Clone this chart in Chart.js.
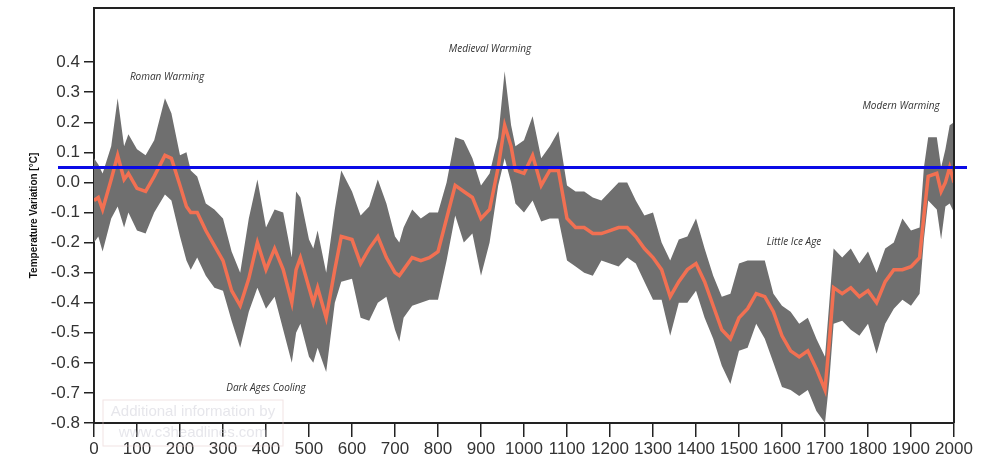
<!DOCTYPE html>
<html>
<head>
<meta charset="utf-8">
<script src="https://cdn.jsdelivr.net/npm/chart.js@4"></script>
<style>
  body { margin: 0; background: #fff; }
  canvas { display: block; }
</style>
</head>
<body>
<canvas id="chart" width="983" height="469"></canvas>
<script>
// Reconstructed temperature variation, years 0-2000 (°C)
const years = [0, 10, 20, 40, 55, 70, 80, 100, 120, 140, 165, 180, 200, 215, 225, 240, 260, 280, 300, 320,
  340, 360, 380, 400, 420, 440, 460, 470, 480, 500, 510, 520, 540, 560, 575, 600, 620, 640, 660, 680,
  700, 710, 720, 740, 760, 780, 800, 820, 840, 860, 880, 900, 920, 940, 955, 970, 980, 1000, 1020, 1040,
  1060, 1080, 1100, 1120, 1140, 1160, 1180, 1200, 1220, 1240, 1260, 1280, 1300, 1320, 1340, 1360, 1380, 1400, 1420, 1440,
  1460, 1480, 1500, 1520, 1540, 1560, 1580, 1600, 1620, 1640, 1660, 1680, 1700, 1710, 1720, 1740, 1760, 1780, 1800, 1820,
  1840, 1860, 1880, 1900, 1920, 1930, 1940, 1960, 1970, 1980, 1990, 2000];

const meanTemp = [-0.06, -0.05, -0.09, 0.01, 0.09, 0.01, 0.03, -0.02, -0.03, 0.02, 0.09, 0.08, -0.01, -0.08, -0.10, -0.10, -0.16, -0.21, -0.26, -0.36,
  -0.41, -0.32, -0.20, -0.29, -0.22, -0.29, -0.40, -0.29, -0.25, -0.35, -0.40, -0.35, -0.45, -0.29, -0.18, -0.19, -0.27, -0.22, -0.18, -0.25,
  -0.30, -0.31, -0.29, -0.25, -0.26, -0.25, -0.23, -0.12, -0.01, -0.03, -0.05, -0.12, -0.09, 0.05, 0.19, 0.12, 0.04, 0.03, 0.09, -0.01,
  0.04, 0.04, -0.12, -0.15, -0.15, -0.17, -0.17, -0.16, -0.15, -0.15, -0.18, -0.22, -0.25, -0.29, -0.38, -0.33, -0.29, -0.27, -0.33, -0.41,
  -0.49, -0.52, -0.45, -0.42, -0.37, -0.38, -0.43, -0.51, -0.56, -0.58, -0.56, -0.62, -0.69, -0.53, -0.35, -0.37, -0.35, -0.38, -0.36, -0.40,
  -0.33, -0.29, -0.29, -0.28, -0.25, -0.11, 0.02, 0.03, -0.03, 0.00, 0.05, 0.00];

const upperTemp = [0.08, 0.06, 0.03, 0.12, 0.28, 0.12, 0.16, 0.11, 0.09, 0.14, 0.28, 0.23, 0.09, 0.10, 0.04, 0.02, -0.07, -0.09, -0.12, -0.23,
  -0.30, -0.12, 0.01, -0.15, -0.09, -0.10, -0.25, -0.03, -0.05, -0.19, -0.22, -0.16, -0.30, -0.09, 0.04, -0.03, -0.11, -0.08, 0.01, -0.07,
  -0.18, -0.20, -0.15, -0.09, -0.12, -0.10, -0.10, 0.00, 0.15, 0.14, 0.08, -0.01, 0.03, 0.15, 0.37, 0.19, 0.12, 0.14, 0.22, 0.08,
  0.12, 0.17, -0.01, -0.03, -0.03, -0.05, -0.06, -0.03, 0.00, 0.00, -0.06, -0.11, -0.10, -0.20, -0.26, -0.19, -0.18, -0.12, -0.22, -0.31,
  -0.38, -0.37, -0.27, -0.26, -0.26, -0.26, -0.37, -0.41, -0.43, -0.47, -0.45, -0.52, -0.58, -0.40, -0.22, -0.25, -0.22, -0.27, -0.23, -0.30,
  -0.22, -0.20, -0.12, -0.16, -0.15, 0.05, 0.15, 0.15, 0.05, 0.11, 0.19, 0.20];

const lowerTemp = [-0.20, -0.18, -0.23, -0.12, -0.08, -0.15, -0.10, -0.16, -0.17, -0.10, -0.04, -0.06, -0.18, -0.26, -0.29, -0.25, -0.31, -0.35, -0.36, -0.46,
  -0.55, -0.43, -0.35, -0.42, -0.38, -0.49, -0.60, -0.50, -0.47, -0.58, -0.60, -0.55, -0.63, -0.40, -0.33, -0.32, -0.45, -0.46, -0.40, -0.38,
  -0.49, -0.53, -0.45, -0.41, -0.40, -0.39, -0.39, -0.26, -0.11, -0.20, -0.17, -0.31, -0.20, -0.01, 0.08, 0.00, -0.07, -0.10, -0.06, -0.13,
  -0.12, -0.12, -0.26, -0.28, -0.30, -0.31, -0.26, -0.27, -0.28, -0.25, -0.27, -0.33, -0.39, -0.39, -0.51, -0.40, -0.40, -0.36, -0.45, -0.52,
  -0.61, -0.67, -0.56, -0.55, -0.47, -0.52, -0.60, -0.68, -0.69, -0.71, -0.69, -0.76, -0.80, -0.66, -0.47, -0.46, -0.49, -0.51, -0.47, -0.57,
  -0.47, -0.42, -0.39, -0.41, -0.37, -0.19, -0.06, -0.09, -0.19, -0.08, -0.07, -0.10];

const yTicks = [-0.8, -0.7, -0.6, -0.5, -0.4, -0.3, -0.2, -0.1, 0.0, 0.1, 0.2, 0.3, 0.4];
const referenceLevel = 0.05;

const periodNames = ['Roman Warming', 'Medieval Warming', 'Modern Warming', 'Little Ice Age', 'Dark Ages Cooling'];
const periodYears = [170, 921, 1877, 1628, 400];
const periodValues = [0.35, 0.443, 0.253, -0.2, -0.683];

function toPoints(values) {
  return years.map((yr, i) => ({ x: yr, y: values[i] }));
}

// frame, reference line, period labels and watermark
const overlayPlugin = {
  id: 'overlay',
  afterDatasetsDraw(chart) {
    const { ctx, chartArea, scales } = chart;
    ctx.save();

    // blue reference line, runs a bit past the plot box
    const yRef = scales.y.getPixelForValue(referenceLevel);
    ctx.strokeStyle = '#0a0ae6';
    ctx.lineWidth = 3;
    ctx.beginPath();
    ctx.moveTo(chartArea.left - 36, yRef);
    ctx.lineTo(chartArea.right + 13, yRef);
    ctx.stroke();

    // top and right edges of the box
    ctx.strokeStyle = '#222';
    ctx.lineWidth = 2;
    ctx.beginPath();
    ctx.moveTo(chartArea.left, chartArea.top);
    ctx.lineTo(chartArea.right, chartArea.top);
    ctx.lineTo(chartArea.right, chartArea.bottom);
    ctx.stroke();

    ctx.fillStyle = '#333';
    ctx.font = 'italic 10px "Open Sans", sans-serif';
    ctx.textAlign = 'center';
    ctx.textBaseline = 'middle';
    periodNames.forEach((name, i) => {
      ctx.fillText(name, scales.x.getPixelForValue(periodYears[i]), scales.y.getPixelForValue(periodValues[i]));
    });

    // faint watermark box
    const wx = chartArea.left + 9, wy = chartArea.bottom - 23;
    ctx.strokeStyle = 'rgba(230,200,200,0.5)';
    ctx.lineWidth = 1;
    ctx.strokeRect(wx, wy, 180, 46);
    ctx.fillStyle = 'rgba(200,200,210,0.45)';
    ctx.font = '15px "Liberation Sans", Arial, sans-serif';
    ctx.fillText('Additional information by', wx + 90, wy + 12);
    ctx.fillText('www.c3headlines.com', wx + 90, wy + 33);

    ctx.restore();
  }
};

const ctx = document.getElementById('chart').getContext('2d');
new Chart(ctx, {
  type: 'line',
  data: {
    datasets: [
      {
        label: 'Upper',
        data: toPoints(upperTemp),
        borderWidth: 0,
        borderColor: 'rgba(0,0,0,0)',
        backgroundColor: '#6f6f6f',
        pointRadius: 0,
        fill: '+1',
        tension: 0,
        order: 2
      },
      {
        label: 'Lower',
        data: toPoints(lowerTemp),
        borderWidth: 0,
        borderColor: 'rgba(0,0,0,0)',
        pointRadius: 0,
        fill: false,
        tension: 0,
        order: 1
      },
      {
        label: 'Mean',
        data: toPoints(meanTemp),
        borderColor: '#f27052',
        borderWidth: 3.5,
        pointRadius: 0,
        fill: false,
        tension: 0,
        order: 0
      }
    ]
  },
  options: {
    responsive: false,
    animation: false,
    layout: { padding: { top: 8, right: 29, left: 28, bottom: 0 } },
    plugins: {
      legend: { display: false },
      tooltip: { enabled: false }
    },
    scales: {
      x: {
        type: 'linear',
        min: 0,
        max: 2000,
        afterFit(scale) { scale.height = 46; scale.paddingLeft = 0; scale.paddingRight = 0; },
        ticks: {
          stepSize: 100,
          autoSkip: false,
          maxRotation: 0,
          color: '#333',
          padding: 2,
          font: { family: '"Liberation Sans", Arial, sans-serif', size: 17 },
          callback: v => String(v)
        },
        grid: { drawOnChartArea: false, drawTicks: true, tickLength: 14, color: '#222', lineWidth: 1.5 },
        border: { display: true, color: '#222', width: 2 }
      },
      y: {
        min: -0.8,
        max: 0.58,
        afterFit(scale) { scale.width = 66; scale.paddingTop = 0; scale.paddingBottom = 0; },
        afterBuildTicks(scale) { scale.ticks = yTicks.map(v => ({ value: v })); },
        ticks: {
          color: '#333',
          padding: 4,
          font: { family: '"Liberation Sans", Arial, sans-serif', size: 17 },
          callback: v => v.toFixed(1)
        },
        grid: { drawOnChartArea: false, drawTicks: true, tickLength: 10, color: '#222', lineWidth: 1.5 },
        border: { display: true, color: '#222', width: 2 },
        title: {
          display: true,
          text: 'Temperature Variation [°C]',
          color: '#111',
          padding: { top: 0, bottom: 0 },
          font: { family: '"Liberation Sans", Arial, sans-serif', size: 10, weight: 'bold' }
        }
      }
    }
  },
  plugins: [overlayPlugin]
});
</script>
</body>
</html>
